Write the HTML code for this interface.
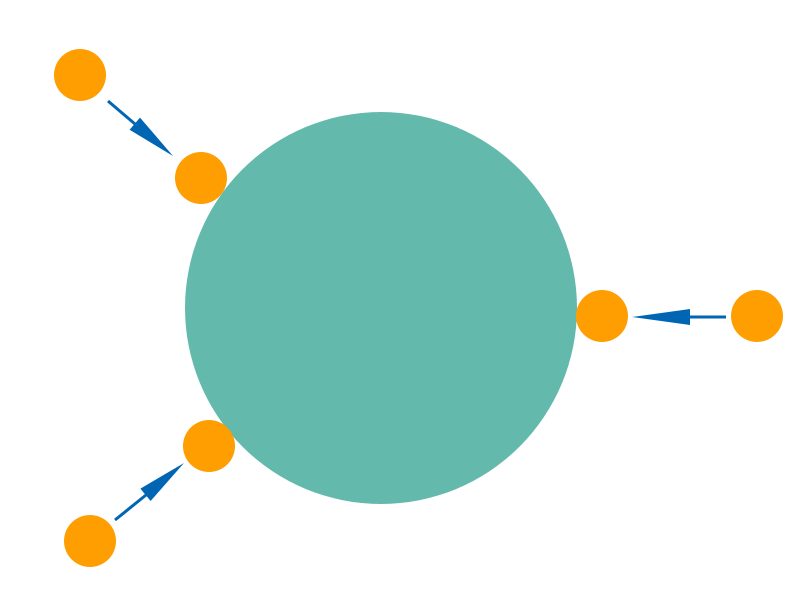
<!DOCTYPE html>
<html><head><meta charset="utf-8"><style>html,body{margin:0;padding:0;background:#fff}svg{display:block}</style></head>
<body>
<svg width="800" height="600" viewBox="0 0 800 600" xmlns="http://www.w3.org/2000/svg">
<rect width="800" height="600" fill="#fff"/>
<circle cx="381" cy="308" r="196" fill="#64b9ad"/>
<g fill="#ff9e00">
<circle cx="80" cy="75" r="26"/>
<circle cx="201" cy="178" r="26"/>
<circle cx="602" cy="316" r="26"/>
<circle cx="757" cy="316" r="26"/>
<circle cx="209" cy="446" r="26"/>
<circle cx="90" cy="541" r="26"/>
</g>
<g stroke="#0066b3" stroke-width="3" fill="none">
<line x1="108" y1="101" x2="135" y2="124"/>
<line x1="726" y1="317" x2="688" y2="317"/>
<line x1="115" y1="520" x2="146" y2="495"/>
</g>
<g fill="#0066b3">
<polygon points="173,156 129.6,129.8 140,117.6"/>
<polygon points="632,317 690,309 690,325"/>
<polygon points="184,463 150.6,501 140.4,488.6"/>
</g>
</svg>
</body></html>
